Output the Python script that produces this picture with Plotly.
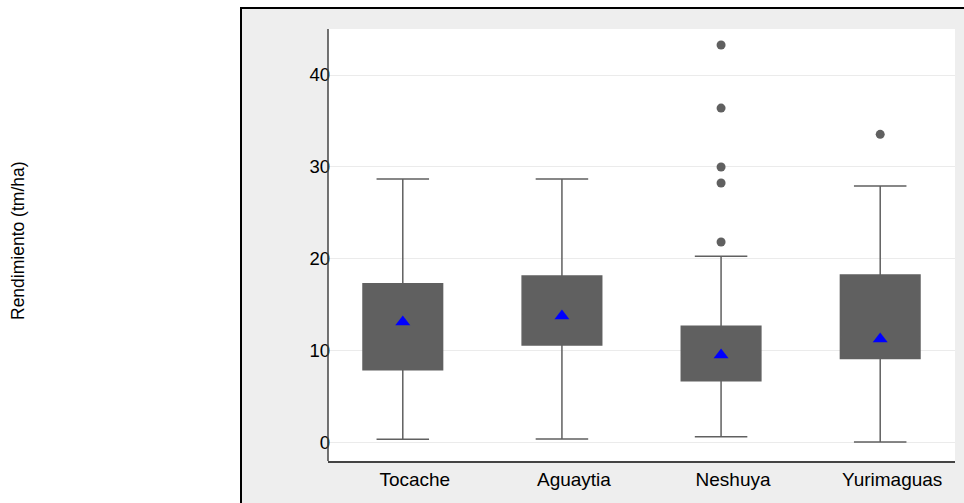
import plotly.graph_objects as go

categories = ["Tocache", "Aguaytia", "Neshuya", "Yurimaguas"]
q1 = [7.97, 10.65, 6.77, 9.17]
median = [12.5, 14.0, 9.5, 11.5]
q3 = [17.3, 18.15, 12.7, 18.26]
lowerfence = [0.4, 0.43, 0.68, 0.1]
upperfence = [28.7, 28.7, 20.3, 27.93]
means = [13.15, 13.8, 9.57, 11.3]
outlier_cat = ["Neshuya", "Neshuya", "Neshuya", "Neshuya", "Neshuya", "Yurimaguas"]
outlier_val = [43.26, 36.4, 30.0, 28.26, 21.85, 33.55]
y_ticks = [0, 10, 20, 30, 40]

FONT = "Liberation Sans, Arial, sans-serif"
BOXC = "#606060"

fig = go.Figure()
fig.add_trace(go.Box(
    x=categories, q1=q1, median=median, q3=q3,
    lowerfence=lowerfence, upperfence=upperfence,
    fillcolor=BOXC, line=dict(color=BOXC, width=1.5),
    width=0.5, whiskerwidth=0.66, boxpoints=False,
    showlegend=False, hoverinfo="skip",
))
fig.add_trace(go.Scatter(
    x=outlier_cat, y=outlier_val, mode="markers",
    marker=dict(symbol="circle", size=9, color=BOXC),
    showlegend=False,
))
fig.add_trace(go.Scatter(
    x=categories, y=means, mode="markers",
    marker=dict(symbol="triangle-up", size=13, color="#0000ff"),
    showlegend=False,
))

L, R, T, B = 328, 9, 29, 42
W, H = 964, 503
pw, ph = W - L - R, H - T - B

def px(x):
    return (x - L) / pw

def py(y):
    return (H - B - y) / ph

shapes = [
    dict(type="rect", xref="paper", yref="paper", x0=px(0), x1=px(241), y0=py(H), y1=py(0),
         fillcolor="white", line=dict(width=0), layer="below"),
    dict(type="rect", xref="paper", yref="paper", x0=px(241), x1=px(W), y0=py(8), y1=py(0),
         fillcolor="white", line=dict(width=0), layer="below"),
    dict(type="line", xref="paper", yref="paper", x0=px(241), x1=px(241), y0=py(H), y1=py(7),
         line=dict(color="black", width=2)),
    dict(type="line", xref="paper", yref="paper", x0=px(240), x1=px(W), y0=py(8), y1=py(8),
         line=dict(color="black", width=2)),
    # y axis line
    dict(type="line", xref="paper", yref="paper", x0=0, x1=0, y0=0, y1=1,
         line=dict(color="#444444", width=1.5)),
]

fig.update_layout(
    width=W, height=H,
    margin=dict(l=L, r=R, t=T, b=B, pad=0),
    paper_bgcolor="#eeeeee", plot_bgcolor="white",
    font=dict(family=FONT, size=18, color="black"),
    shapes=shapes,
    annotations=[dict(
        text="Rendimiento (tm/ha)", xref="paper", yref="paper",
        x=px(18), y=py(241), xanchor="center", yanchor="middle",
        textangle=-90, showarrow=False, font=dict(family=FONT, size=17.5, color="black"),
    )],
)
fig.update_xaxes(
    type="category", categoryorder="array", categoryarray=categories,
    range=[-0.47, 3.47], showgrid=False, zeroline=False,
    showline=True, linecolor="#444444", linewidth=1.5, ticks="",
    ticklabelshift=12,
    tickfont=dict(family=FONT, size=19, color="black"),
)
fig.update_yaxes(
    range=[-1.96, 45.0], tickvals=y_ticks, ticktext=[str(v) for v in y_ticks],
    showgrid=True, gridcolor="#ebebeb", gridwidth=1, zeroline=False,
    showline=False, ticks="",
    anchor="free", position=px(330),
    tickfont=dict(family=FONT, size=18.5, color="black"),
)

fig.write_html(
    "out.html",
    config={"displayModeBar": False},
    post_script="document.body.style.margin='0px';document.body.style.padding='0px';",
)
